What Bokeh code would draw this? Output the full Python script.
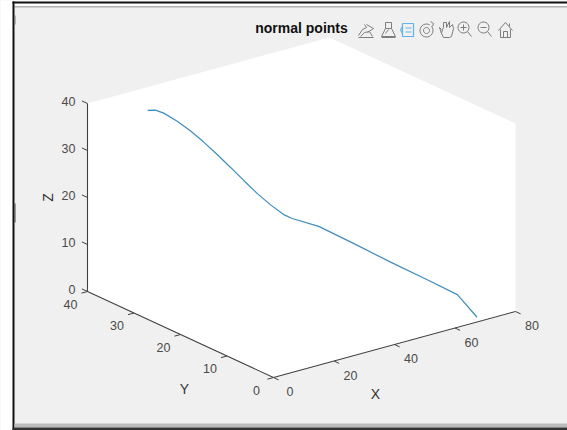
import numpy as np
from bokeh.plotting import figure
from bokeh.models import Range1d
from bokeh.core.properties import value
from bokeh.embed import file_html
from bokeh.resources import INLINE

# ---- data ----
X = [14.5, 16.3, 18.3, 21.2, 24.1, 26.9, 29.8, 32.7, 35.5, 38.4, 41.3, 44.1, 45.4, 50.3, 55.8, 61.0, 66.2, 70.0, 69.3]
Y = [36.5, 36.0, 35.5, 34.5, 33.5, 32.5, 31.5, 30.5, 29.5, 28.5, 27.5, 26.5, 25.5, 23.0, 19.0, 14.5, 10.0, 6.0, 1.3]
Z = [37.6, 37.55, 36.8, 35.0, 32.9, 30.5, 27.8, 25.0, 22.2, 19.4, 16.9, 14.8, 14.2, 12.8, 10.0, 7.2, 4.6, 2.6, 0.06]
x_ticks = [0, 20, 40, 60, 80]
y_ticks = [0, 10, 20, 30, 40]
z_ticks = [0, 10, 20, 30, 40]
title = "normal points"
x_label, y_label, z_label = "X", "Y", "Z"

W, H = 567, 430
FONT = value("Liberation Sans")
TICK = "#404040"
TXT = "#4a4a4a"


def proj(x, y, z):
    x, y, z = np.asarray(x, float), np.asarray(y, float), np.asarray(z, float)
    return 273 + 3.025 * x - 4.65 * y, 377 - 0.825 * x - 2.15 * y - 4.7 * z


p = figure(width=W, height=H, output_backend="svg", toolbar_location=None,
           x_range=Range1d(0, W), y_range=Range1d(H, 0),
           min_border=0, background_fill_color="#f0f0f0", border_fill_color="#f0f0f0",
           outline_line_color=None, tools="")
p.axis.visible = False
p.grid.visible = False

# window chrome
p.quad(left=[0], right=[12], top=[0], bottom=[430], fill_color="white", line_color=None)
p.quad(left=[12], right=[567], top=[0], bottom=[6], fill_color="white", line_color=None)
p.quad(left=[12], right=[567], top=[1], bottom=[3], fill_color="#111111", line_color=None)
p.quad(left=[14], right=[567], top=[5.5], bottom=[7], fill_color="#b0b0b0", line_color=None)
p.quad(left=[12], right=[14], top=[1], bottom=[430], fill_color="#111111", line_color=None)
p.quad(left=[14], right=[15], top=[203], bottom=[222], fill_color="#444444", line_color=None)
p.quad(left=[14], right=[15], top=[15], bottom=[24], fill_color="#777777", line_color=None)
p.quad(left=[14], right=[567], top=[423], bottom=[427], fill_color="#bcbcbc", line_color=None)
p.quad(left=[12], right=[567], top=[427], bottom=[430], fill_color="#333333", line_color=None)

# white walls of the 3-D box
bx = [0, 0, 0, 80, 80, 80]
by = [40, 40, 0, 0, 0, 40]
bz = [40, 0, 0, 0, 40, 40]
wx, wy = proj(bx, by, bz)
p.patch(wx, wy, fill_color="white", line_color=None)

# axis lines
for a, b in [((0, 40, 0), (0, 40, 40)), ((0, 40, 0), (0, 0, 0)), ((0, 0, 0), (80, 0, 0))]:
    lx, ly = proj(*zip(a, b))
    p.line(lx, ly, line_color=TICK, line_width=1.1)

# tick marks
for t in z_ticks:
    lx, ly = proj([0, 0], [40, 41.2], [t, t])
    p.line(lx, ly, line_color=TICK, line_width=1)
for t in y_ticks:
    lx, ly = proj([0, -2], [t, t], [0, 0])
    p.line(lx, ly, line_color=TICK, line_width=1)
for t in x_ticks:
    lx, ly = proj([t, t], [0, -1.1], [0, 0])
    p.line(lx, ly, line_color=TICK, line_width=1)

# tick labels
zx, zy = proj([0] * 5, [40] * 5, z_ticks)
p.text(zx, zy, text=[str(t) for t in z_ticks], x_offset=-12, y_offset=-2, text_align="right",
       text_baseline="middle", text_font=FONT, text_font_size="12.5px", text_color=TXT)
yx, yy = proj([0] * 5, y_ticks, [0] * 5)
p.text(yx, yy, text=[str(t) for t in y_ticks], x_offset=-17, y_offset=12.5, text_align="center",
       text_baseline="middle", text_font=FONT, text_font_size="12.5px", text_color=TXT)
xx, xy = proj(x_ticks, [0] * 5, [0] * 5)
p.text(xx, xy, text=[str(t) for t in x_ticks], x_offset=16.5, y_offset=14, text_align="center",
       text_baseline="middle", text_font=FONT, text_font_size="12.5px", text_color=TXT)

# axis labels
ax, ay = proj([40], [0], [0])
p.text(ax, ay, text=[x_label], x_offset=-19, y_offset=49, text_align="center", text_baseline="middle",
       text_font=FONT, text_font_size="14px", text_color="#333333")
ax, ay = proj([0], [20], [0])
p.text(ax, ay, text=[y_label], x_offset=4, y_offset=54, text_align="center", text_baseline="middle",
       text_font=FONT, text_font_size="14px", text_color="#333333")
ax, ay = proj([0], [40], [20])
p.text(ax, ay, text=[z_label], x_offset=-40, y_offset=0, angle=[np.pi / 2], text_align="center",
       text_baseline="middle", text_font=FONT, text_font_size="14px", text_color="#333333")

# curve
cx, cy = proj(X, Y, Z)
p.line(cx, cy, line_color="#3f8dbd", line_width=1.2)

# title
p.text([301], [27], text=[title], text_align="center", text_baseline="middle", text_font=FONT,
       text_font_style="bold", text_font_size="14px", text_color="#111111")


# axes-toolbar icons (decorative, in page pixels)
def arc(cx0, cy0, r, a0=0, a1=360, n=24):
    t = np.radians(np.linspace(a0, a1, n))
    return list(cx0 + r * np.cos(t)), list(cy0 + r * np.sin(t))


def strokes(items, color="#7d7d7d", width=1.0):
    p.multi_line([list(s[0]) for s in items], [list(s[1]) for s in items], line_color=color, line_width=width)


# 1: data cursor / export arrow
strokes([([358, 362, 366, 364], [35, 29, 27, 24]), ([366, 373, 367], [24, 28, 32]),
         ([360, 364, 369, 372], [36, 32, 31, 36]), ([358, 373], [37, 37])])
# 2: brush
strokes([([385, 385, 391, 391], [22, 28, 28, 22]), ([385, 391], [22, 22]),
         ([385, 381, 395, 391], [28, 36, 36, 28]), ([381, 395], [37, 37]), ([385, 388], [33, 29])])
# 3: blue legend button
strokes([([402, 413, 413, 402, 402], [23, 23, 36, 36, 23]), ([405, 411], [27.5, 27.5]), ([405, 411], [31.5, 31.5]),
         ([402, 400, 402], [26, 29.5, 33])], color="#63b4e6", width=1.2)
# 4: rotate
strokes([arc(426, 30, 6.5, -40, 300), arc(426, 30, 3)])
strokes([([430, 433, 432], [21, 23, 26])])
# 5: hand
strokes([([441, 439, 441, 442, 443, 443, 446, 446, 449, 449, 452, 453, 451, 449, 443, 441],
          [29, 27, 33, 29, 27, 22, 22, 27, 21, 27, 24, 28, 36, 37, 37, 33])])
# 6: zoom in
strokes([arc(463, 27, 5.5), ([467, 471], [31, 36]), ([460, 466], [27, 27]), ([463, 463], [24, 30])])
# 7: zoom out
strokes([arc(483, 27, 5.5), ([487, 491], [31, 36]), ([480, 486], [27, 27])])
# 8: home
strokes([([498, 505, 512], [30, 22, 30]), ([500, 500, 510, 510], [29, 37, 37, 29]),
         ([503, 503, 507, 507], [37, 31, 31, 37]), ([509, 509], [23, 26])])

open("out.html", "w").write(file_html(p, INLINE))
